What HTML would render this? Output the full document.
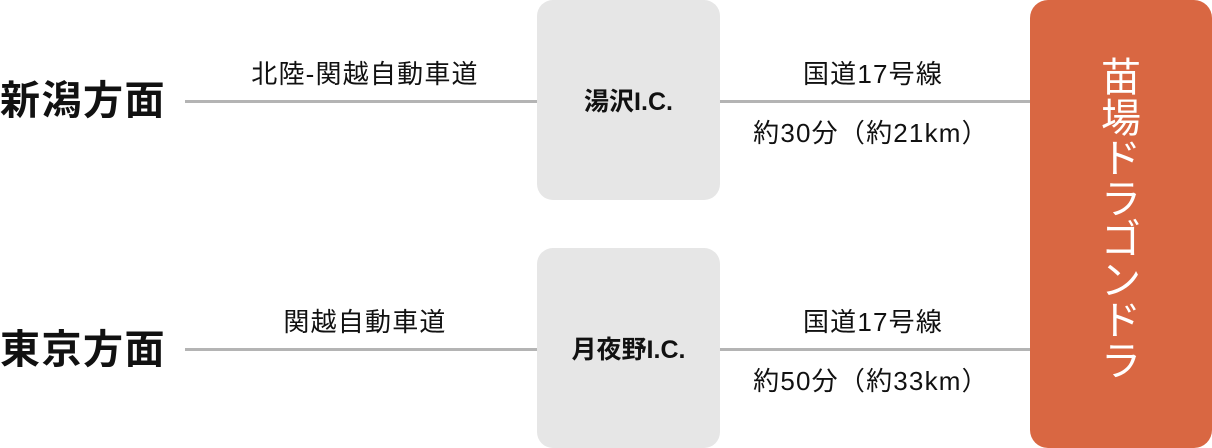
<!DOCTYPE html>
<html><head><meta charset="utf-8"><style>
body{margin:0;width:1212px;height:448px;background:#fff;position:relative;overflow:hidden;font-family:"Liberation Sans","Noto Sans CJK JP",sans-serif;color:#111}
.line{position:absolute;height:3px;background:#b4b4b4}
.box{position:absolute;background:#e6e6e6;border-radius:16px;width:183px;height:200px;left:537px;display:flex;align-items:center;justify-content:center;font-size:25px;font-weight:bold}
.lbl{position:absolute;font-size:26px;letter-spacing:1.2px;white-space:nowrap;transform:translateX(-50%);line-height:1}
.big{position:absolute;left:0;font-size:40px;font-weight:bold;line-height:1;letter-spacing:1.5px}
.or{position:absolute;left:1030px;top:0;width:182px;height:448px;background:#d96742;border-radius:18px}
.vt{position:absolute;left:1101px;top:58px;width:40px;color:#fff;font-size:40px;line-height:40.5px;text-align:center}
</style></head><body>
<div class="big" style="top:81px">新潟方面</div>
<div class="big" style="top:330px">東京方面</div>
<div class="line" style="left:185px;width:352px;top:100px"></div>
<div class="line" style="left:720px;width:310px;top:100px"></div>
<div class="line" style="left:185px;width:352px;top:348px"></div>
<div class="line" style="left:720px;width:310px;top:348px"></div>
<div class="box" style="top:0">湯沢I.C.</div>
<div class="box" style="top:248px">月夜野I.C.</div>
<div class="or"></div>
<div class="vt">苗<br>場<br>ド<br>ラ<br>ゴ<br>ン<br>ド<br>ラ</div>
<div class="lbl" style="left:365px;top:61px">北陸-関越自動車道</div>
<div class="lbl" style="left:873px;top:61px">国道17号線</div>
<div class="lbl" style="left:871px;top:120px">約30分（約21km）</div>
<div class="lbl" style="left:365px;top:309px">関越自動車道</div>
<div class="lbl" style="left:873px;top:309px">国道17号線</div>
<div class="lbl" style="left:871px;top:368px">約50分（約33km）</div>
</body></html>
